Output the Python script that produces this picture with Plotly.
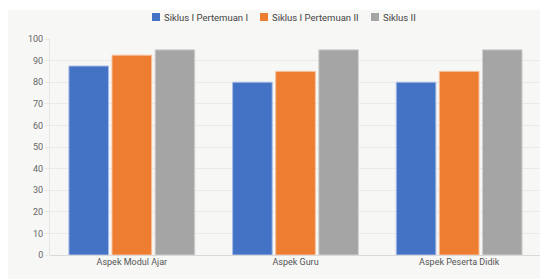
import plotly.graph_objects as go

categories = ["Aspek Modul Ajar", "Aspek Guru", "Aspek Peserta Didik"]
series_names = ["Siklus I Pertemuan I", "Siklus I Pertemuan II", "Siklus II"]
siklus1_p1 = [87.5, 80, 80]
siklus1_p2 = [92.5, 85, 85]
siklus2 = [95, 95, 95]
colors = ["#4472C4", "#ED7D31", "#A5A5A5"]
borders = ["#a9bde6", "#f7c09c", "#d2d2d2"]
y_ticks = [0, 10, 20, 30, 40, 50, 60, 70, 80, 90, 100]

fig = go.Figure()
for name, vals, c, b in zip(series_names, [siklus1_p1, siklus1_p2, siklus2], colors, borders):
    fig.add_trace(go.Bar(x=categories, y=vals, name=name, showlegend=False,
                         marker=dict(color=c, line=dict(color=b, width=1))))

# page has an 8px body margin; figure coordinates = page coordinates - 8
OFF = 8
W, H = 548 - OFF, 279 - OFF
ml, mr, mt, mb = 42, 7, 31, 24
pw, ph = W - ml - mr, H - mt - mb

def px(x):
    return (x - OFF - ml) / pw

def py(y):
    return (H - mb - (y - OFF)) / ph

shapes = [dict(type="rect", xref="paper", yref="paper", layer="below",
               x0=px(0), x1=px(560), y0=py(290), y1=py(10),
               fillcolor="#f7f7f5", line=dict(width=0))]
annotations = []
legend_sq_x = [152, 260, 371]
for name, c, sx in zip(series_names, colors, legend_sq_x):
    shapes.append(dict(type="rect", xref="paper", yref="paper",
                       x0=px(sx), x1=px(sx + 8), y0=py(21), y1=py(13),
                       fillcolor=c, line=dict(width=0)))
    annotations.append(dict(text=name, xref="paper", yref="paper",
                            x=px(sx + 10), y=py(17), xanchor="left", yanchor="middle",
                            showarrow=False, font=dict(size=9.5, color="#444")))

fig.update_layout(
    width=W, height=H,
    margin=dict(l=ml, r=mr, t=mt, b=mb, autoexpand=False),
    paper_bgcolor="white",
    plot_bgcolor="#f7f7f5",
    barmode="group",
    bargap=0.21,
    bargroupgap=0.08,
    font=dict(family="Roboto, sans-serif", size=9, color="#555"),
    showlegend=False,
    shapes=shapes,
    annotations=annotations,
    xaxis=dict(showgrid=False, showline=False, ticks="", tickfont=dict(size=9, color="#555"),
               automargin=False),
    yaxis=dict(range=[0, 100], tickvals=y_ticks, showgrid=True, gridcolor="#e9e9e7",
               zeroline=True, zerolinecolor="#d9d9d9", zerolinewidth=1,
               showline=True, linecolor="#e6e6e6", linewidth=1,
               ticks="outside", ticklen=4, tickcolor="#e9e9e7",
               tickfont=dict(size=9, color="#666"), automargin=False),
)

fig.write_html("out.html")
